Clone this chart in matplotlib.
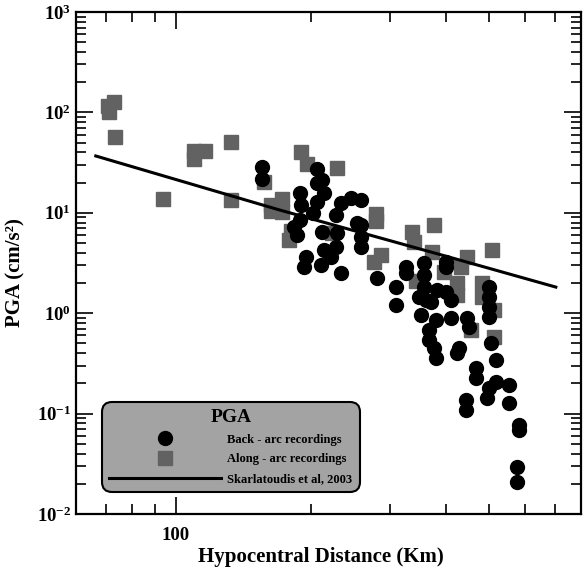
import numpy as np
import matplotlib
matplotlib.use("Agg")
import matplotlib.pyplot as plt
from matplotlib.lines import Line2D

plt.rcParams["font.family"] = ["Liberation Serif", "DejaVu Serif"]
plt.rcParams["font.weight"] = "bold"
plt.rcParams["mathtext.fontset"] = "custom"
plt.rcParams["mathtext.rm"] = "Liberation Serif:bold"
plt.rcParams["mathtext.bf"] = "Liberation Serif:bold"
plt.rcParams["mathtext.it"] = "Liberation Serif:bold"

# back-arc recordings (distance km, PGA cm/s2)
back_dist = [156, 156, 207, 212, 206, 189, 214, 206, 190, 234, 246, 259, 228, 202,
             189, 184, 186, 212, 229, 254, 259, 259, 259, 214, 228, 222, 195, 193,
             211, 234, 281, 310, 310, 326, 326, 358, 358, 400, 400, 358, 349, 361,
             382, 400, 411, 371, 352, 411, 446, 380, 367, 367, 376, 428, 450, 499,
             499, 499, 499, 504, 467, 517, 380, 423, 467, 517, 499, 494, 552, 552,
             443, 443, 581, 581, 575, 575]
back_pga = [28.6, 21.7, 27.3, 21.2, 19.8, 15.7, 15.7, 12.8, 12.0, 12.5, 14.0, 13.4,
            9.51, 9.95, 8.48, 7.22, 6.01, 6.44, 6.29, 7.91, 7.56, 5.74, 4.56, 4.26,
            4.56, 3.63, 3.63, 2.88, 3.02, 2.51, 2.24, 1.82, 1.21, 2.88, 2.51, 3.16,
            2.40, 3.24, 2.88, 1.82, 1.45, 1.35, 1.70, 1.63, 1.35, 1.29, 0.96, 0.90,
            0.90, 0.855, 0.68, 0.54, 0.45, 0.45, 0.73, 1.82, 1.45, 1.15, 0.917, 0.505,
            0.284, 0.342, 0.358, 0.40, 0.226, 0.206, 0.18, 0.143, 0.193, 0.128,
            0.137, 0.109, 0.077, 0.069, 0.0294, 0.0208]

# along-arc recordings
along_dist = [70.6, 72.8, 71.0, 73.2, 93.6, 110, 116, 110, 133, 133, 157, 163, 173,
              163, 173, 181, 179, 190.5, 196.5, 229, 280, 280, 336, 376, 340, 372,
              287, 277, 446, 432, 506, 396, 343, 423, 423, 481, 481, 512, 455, 512, 223]
along_pga = [115.9, 127, 100.9, 56.9, 13.7, 41.3, 41.3, 34.4, 50.7, 13.4, 20.3, 11.97,
             13.7, 10.4, 10.2, 6.59, 5.36, 40.3, 30.6, 27.9, 9.73, 8.28, 6.44, 7.56,
             5.12, 4.07, 3.80, 3.24, 3.63, 2.88, 4.26, 2.57, 2.09, 2.00, 1.52, 2.00,
             1.45, 1.08, 0.68, 0.58, 6.29]

# Skarlatoudis et al, 2003 relation
model_dist = [66.4, 170, 406, 703]
model_pga = [36.8, 10.7, 3.63, 1.82]

fig = plt.figure(figsize=(5.83, 5.70), dpi=100)
ax = fig.add_axes([0.1304, 0.0982, 0.8662, 0.8808])

sq_color = "#626262"
ax.plot(along_dist, along_pga, "s", color=sq_color, markersize=9.5, zorder=2)
ax.plot(model_dist, model_pga, "-", color="black", lw=2.2, zorder=3)
ax.plot(back_dist, back_pga, "o", color="black", markersize=10, zorder=4)

ax.set_xscale("log")
ax.set_yscale("log")
ax.set_xlim(60, 800)
ax.set_ylim(1e-2, 1e3)

ax.set_xticks([100])
ax.set_xticklabels(["100"])
ax.set_xticks([70, 80, 90, 200, 300, 400, 500, 600, 700], minor=True)
ax.xaxis.set_minor_formatter(matplotlib.ticker.NullFormatter())

ax.tick_params(which="both", direction="in", top=True, right=True, width=1.2,
               labelsize=13.5)
ax.tick_params(which="major", length=12.5)
ax.tick_params(which="minor", length=7)
ax.tick_params(axis="x", which="major", pad=9)
for s in ax.spines.values():
    s.set_linewidth(1.6)

ax.set_xlabel("Hypocentral Distance (Km)", fontsize=15, fontweight="bold")
ax.xaxis.set_label_coords(0.485, -0.065)
ax.set_ylabel("PGA (cm/s²)", fontsize=15, fontweight="bold")
ax.yaxis.set_label_coords(-0.1, 0.48)

handles = [
    Line2D([], [], marker="o", color="black", ls="none", markersize=10),
    Line2D([], [], marker="s", color=sq_color, ls="none", markersize=9.5),
    Line2D([], [], color="black", lw=2.2),
]
labels = ["Back - arc recordings", "Along - arc recordings", "Skarlatoudis et al, 2003"]
leg = ax.legend(handles, labels, title="PGA", loc="lower left",
                bbox_to_anchor=(0.051, 0.044, 0.511, 0.177), mode="expand",
                fontsize=9, title_fontsize=14, handlelength=9, handletextpad=0.5,
                borderpad=0.55, labelspacing=0.62, fancybox=True,
                facecolor="#a3a3a3", edgecolor="black", framealpha=1,
                borderaxespad=0)
leg.get_frame().set_linewidth(1.5)
leg.get_frame().set_boxstyle("round", pad=0, rounding_size=0.8)
leg.get_title().set_fontweight("bold")

fig.savefig("out.png", dpi=100)
